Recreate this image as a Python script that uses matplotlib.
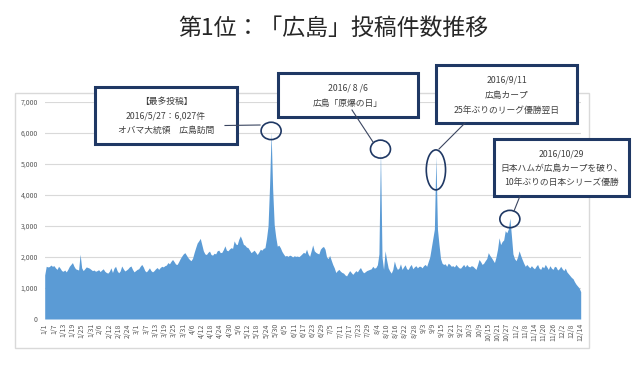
import numpy as np
import pandas as pd
import matplotlib
matplotlib.use("Agg")
import matplotlib.pyplot as plt
from matplotlib.patches import Rectangle, Ellipse
from matplotlib.lines import Line2D
from matplotlib.ticker import FuncFormatter

plt.rcParams["font.family"] = ["Noto Sans CJK JP", "DejaVu Sans"]

# daily post counts, 2016/1/1 - 2016/12/14
jan = [1420, 1700, 1680, 1690, 1740, 1700, 1720, 1650, 1600, 1700, 1640, 1560, 1540, 1580, 1520, 1600,
       1700, 1760, 1820, 1700, 1620, 1600, 1580, 2090, 1650, 1560, 1620, 1680, 1660, 1640, 1600]
feb = [1560, 1580, 1540, 1560, 1590, 1530, 1580, 1620, 1540, 1500, 1480, 1540, 1650, 1500, 1640,
       1700, 1560, 1490, 1550, 1710, 1620, 1550, 1580, 1620, 1680, 1710, 1600, 1520, 1560]
mar = [1600, 1620, 1700, 1760, 1680, 1560, 1520, 1580, 1650, 1560, 1520, 1560, 1620, 1660, 1600, 1660,
       1700, 1680, 1720, 1740, 1820, 1780, 1860, 1920, 1850, 1770, 1760, 1850, 1950, 2030, 2100]
apr = [2140, 2060, 1980, 1920, 1880, 1960, 2140, 2300, 2450, 2520, 2600, 2400, 2200, 2100, 2080,
       2150, 2190, 2080, 2060, 2120, 2100, 2200, 2220, 2140, 2150, 2240, 2360, 2220, 2200, 2260]
may = [2300, 2280, 2520, 2420, 2400, 2570, 2680, 2560, 2410, 2380, 2320, 2300, 2220, 2140, 2180, 2220,
       2150, 2080, 2160, 2250, 2220, 2280, 2300, 2600, 3000, 4300, 6027, 4200, 3050, 2650, 2350]
jun = [2380, 2300, 2180, 2100, 2030, 2050, 2020, 2060, 2040, 2000, 2040, 2020, 2030, 2010, 2050,
       2100, 2150, 2120, 2250, 2100, 2020, 2200, 2390, 2200, 2150, 2120, 2100, 2250, 2310, 2340]
jul = [2250, 2000, 1950, 2050, 1900, 1760, 1650, 1500, 1560, 1600, 1540, 1500, 1480, 1420, 1390, 1480,
       1560, 1500, 1440, 1500, 1560, 1520, 1600, 1660, 1560, 1490, 1520, 1560, 1580, 1600, 1620]
aug = [1700, 1640, 1660, 1750, 2100, 5450, 2000, 1600, 2200, 1900, 1650, 1550, 1480, 1600, 1870, 1700,
       1600, 1640, 1780, 1600, 1680, 1750, 1620, 1600, 1700, 1760, 1620, 1680, 1720, 1650, 1700]
sep = [1700, 1650, 1720, 1760, 1700, 1850, 2000, 2300, 2600, 2900, 5250, 2900, 2400, 1950, 1800,
       1760, 1780, 1700, 1800, 1760, 1700, 1720, 1680, 1760, 1700, 1650, 1640, 1700, 1760, 1680]
oct_ = [1760, 1700, 1680, 1720, 1700, 1650, 1600, 1750, 1920, 1850, 1760, 1800, 1880, 1950, 2140, 2050,
        1980, 1900, 1820, 2000, 2250, 2620, 2400, 2500, 2550, 2850, 2780, 2900, 3250, 2700, 2100]
nov = [1950, 1880, 2000, 2200, 2050, 1920, 1800, 1700, 1760, 1700, 1650, 1720, 1660, 1620, 1700,
       1760, 1640, 1600, 1700, 1650, 1760, 1680, 1600, 1720, 1640, 1600, 1700, 1680, 1580, 1620]
dec = [1700, 1620, 1560, 1640, 1520, 1460, 1400, 1340, 1300, 1200, 1120, 1060, 1000, 880]

posts = jan + feb + mar + apr + may + jun + jul + aug + sep + oct_ + nov + dec
dates = pd.date_range("2016-01-01", "2016-12-14", freq="D")
tick_labels = [f"{d.month}/{d.day}" for d in dates[::6]]

title = "第1位：「広島」投稿件数推移"
event_dates = ["2016-05-27", "2016-08-06", "2016-09-11", "2016-10-29"]
event_texts = [
    ["【最多投稿】", "2016/5/27：6,027件", "オバマ大統領　広島訪問"],
    ["2016/ 8 /6", "広島「原爆の日」"],
    ["2016/9/11", "広島カープ", "25年ぶりのリーグ優勝翌日"],
    ["2016/10/29", "日本ハムが広島カープを破り、", "10年ぶりの日本シリーズ優勝"],
]

W, H = 640, 365
fig = plt.figure(figsize=(6.4, 3.65), dpi=100)


def fx(x):
    return x / W


def fy(y):
    return 1 - y / H


navy = "#1f3864"
txt = "#404040"

# light frame around the chart
fig.add_artist(Rectangle((fx(15), fy(348)), fx(589) - fx(15), fy(93) - fy(348),
                         transform=fig.transFigure, fill=False, edgecolor="#d9d9d9", lw=1))

fig.text(fx(333), fy(28), title, ha="center", va="center", fontsize=16.5, color="#262626")

ax = fig.add_axes([fx(44.7), fy(319), (580.7 - 44.7) / W, (319 - 102) / H])
x = np.arange(len(posts))
ax.fill_between(x, posts, color="#5b9bd5", lw=0)
ax.set_xlim(0, len(posts) - 1)
ax.set_ylim(0, 7000)
ax.set_yticks(range(0, 7001, 1000))
ax.yaxis.set_major_formatter(FuncFormatter(lambda v, p: f"{int(v):,}"))
ax.set_xticks(x[::6])
ax.set_xticklabels(tick_labels, rotation=90)
ax.tick_params(axis="y", length=0, labelsize=5, colors="#595959", pad=5)
ax.tick_params(axis="x", length=0, labelsize=5, colors="#595959", pad=3)
ax.grid(axis="y", color="#d9d9d9", lw=0.8)
ax.set_axisbelow(True)
for s in ax.spines.values():
    s.set_visible(False)

# callout boxes (pixel positions: left, top, right, bottom)
box_px = [(95, 87, 237, 144), (278, 73, 418, 117), (436, 65, 577, 123), (494, 139, 629, 196)]
line_y = [[101.5, 115.5, 130.5], [88, 103], [80, 95, 110], [154, 168, 182]]
leaders = [((225, 125.5), (260, 125)), ((352, 110), (373, 142)),
           ((465, 123), (439, 149)), ((520, 196), (514, 211))]
ell_size = [(13, 560), (13, 580), (12.5, 1290), (13, 560)]
ell_shift = [40, 30, -440, -25]

for i, d in enumerate(event_dates):
    l, t, r, b = box_px[i]
    fig.add_artist(Rectangle((fx(l), fy(b)), fx(r) - fx(l), fy(t) - fy(b), transform=fig.transFigure,
                             facecolor="white", edgecolor=navy, lw=2.2, zorder=3))
    for s, yy in zip(event_texts[i], line_y[i]):
        fig.text(fx((l + r) / 2), fy(yy), s, ha="center", va="center", fontsize=6.3,
                 color=txt, zorder=4)
    (x0, y0), (x1, y1) = leaders[i]
    fig.add_artist(Line2D([fx(x0), fx(x1)], [fy(y0), fy(y1)], transform=fig.transFigure,
                          color="#3a4560", lw=0.8, zorder=5))
    k = dates.get_loc(pd.Timestamp(d))
    ax.add_patch(Ellipse((k, posts[k] + ell_shift[i]), ell_size[i][0], ell_size[i][1],
                         fill=False, edgecolor=navy, lw=1.2, clip_on=False, zorder=5))

fig.savefig("out.png", dpi=100)
